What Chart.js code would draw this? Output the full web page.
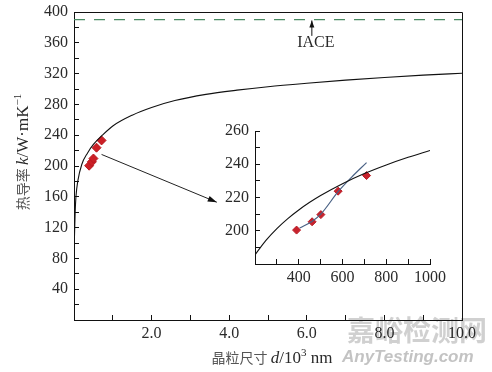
<!DOCTYPE html>
<html>
<head>
<meta charset="utf-8">
<script src="https://cdn.jsdelivr.net/npm/chart.js@4"></script>
<style>
html, body { margin: 0; padding: 0; background: #fff; }
#wrap { position: relative; width: 492px; height: 372px; }
#mainChart { position: absolute; left: 0; top: 0; }
#insetChart { position: absolute; left: 200px; top: 118px; }
</style>
</head>
<body>
<div id="wrap">
  <canvas id="mainChart" width="492" height="372"></canvas>
  <canvas id="insetChart" width="250" height="180"></canvas>
</div>
<script>
// main curve (grain size in 10^3 nm, k in W/mK)
var curveX = [0.003, 0.01, 0.03, 0.05, 0.1, 0.2, 0.35, 0.5, 0.73, 1.0, 1.5, 2.0, 2.6, 3.4, 4.2, 5.0, 6.0, 7.0, 8.0, 9.0, 10];
var curveY = [90, 105, 140, 160, 181, 202, 217, 228, 240, 252, 266, 276, 285, 293, 298.5, 303, 307.5, 311.5, 315, 318, 320.5];

// measured points (nm)
var grainNm = [390, 461, 501, 580, 710];
var kMeasured = [200.4, 205.4, 209.7, 223.8, 233.2];

// inset curves
var insetCurveX = [200, 250, 300, 350, 400, 450, 500, 600, 700, 800, 900, 1000];
var insetCurveY = [185.5, 194.2, 201.3, 207.3, 212.5, 217.1, 221.2, 228.3, 234.4, 239.6, 244.2, 248.3];
var fitX = [404, 460, 501, 580, 640, 710];
var fitY = [201.6, 205.5, 210, 223.5, 232, 241];

var iaceLevel = 390;
var iaceArrowY = [369, 389];
var iaceArrowX = 6.13;
var pointerX = [0.71, 3.68];
var pointerY = [215, 153];

var xTickLabels = ['2.0', '4.0', '6.0', '8.0', '10.0'];
var yTickLabels = [40, 80, 120, 160, 200, 240, 280, 320, 360, 400];
var insetXTicks = [400, 600, 800, 1000];
var insetYTicks = [200, 220, 240, 260];

function pts(xs, ys) {
    var out = [];
    for (var i = 0; i < xs.length; i++) out.push({x: xs[i], y: ys[i]});
    return out;
}

var serif = '"Liberation Serif", "DejaVu Serif", serif';
var cjk = '"Noto Sans CJK SC", sans-serif';
var ink = '#2a2a2a';

function arrowHead(ctx, x1, y1, x2, y2, len, half) {
    var a = Math.atan2(y2 - y1, x2 - x1);
    ctx.save();
    ctx.translate(x2, y2);
    ctx.rotate(a);
    ctx.beginPath();
    ctx.moveTo(0, 0);
    ctx.lineTo(-len, -half);
    ctx.lineTo(-len, half);
    ctx.closePath();
    ctx.fillStyle = '#111';
    ctx.fill();
    ctx.restore();
}

function drawRich(ctx, parts, cx, baseY) {
    var w = 0;
    parts.forEach(function(p) { ctx.font = p.f; w += ctx.measureText(p.t).width; });
    var x = cx - w / 2;
    ctx.textAlign = 'left';
    ctx.textBaseline = 'alphabetic';
    parts.forEach(function(p) {
        ctx.font = p.f;
        ctx.fillStyle = p.c || ink;
        ctx.fillText(p.t, x, baseY + (p.dy || 0));
        x += ctx.measureText(p.t).width;
    });
}

var mainDeco = {
    id: 'mainDeco',
    beforeDraw: function(chart) {
        var ctx = chart.ctx;
        ctx.save();
        ctx.fillStyle = 'rgba(170,170,170,0.55)';
        ctx.font = 'bold 28px ' + cjk;
        ctx.textAlign = 'left';
        ctx.textBaseline = 'alphabetic';
        ctx.fillText('嘉峪检测网', 347, 341);
        ctx.fillStyle = 'rgba(175,175,175,0.75)';
        ctx.font = 'italic bold 17px "Liberation Sans", sans-serif';
        ctx.fillText('AnyTesting.com', 342, 362);
        ctx.restore();
    },
    afterDraw: function(chart) {
        var ctx = chart.ctx, a = chart.chartArea;
        var xs = chart.scales.x, ys = chart.scales.y;
        ctx.save();
        // frame
        ctx.strokeStyle = '#111';
        ctx.lineWidth = 1;
        ctx.beginPath();
        ctx.moveTo(a.left, a.top + 0.5);
        ctx.lineTo(a.right + 0.5, a.top + 0.5);
        ctx.lineTo(a.right + 0.5, a.bottom);
        ctx.stroke();

        // arrow heads
        var p = chart.getDatasetMeta(3).data;
        arrowHead(ctx, p[0].x, p[0].y, p[1].x, p[1].y, 9, 3);
        var q = chart.getDatasetMeta(4).data;
        arrowHead(ctx, q[0].x, q[0].y, q[1].x, q[1].y, 7, 2.5);

        // IACE label
        ctx.font = '16px ' + serif;
        ctx.fillStyle = ink;
        ctx.textAlign = 'center';
        ctx.textBaseline = 'middle';
        ctx.fillText('IACE', xs.getPixelForValue(iaceArrowX) + 4, ys.getPixelForValue(iaceArrowY[0]) + 7);

        // axis titles
        drawRich(ctx, [
            {t: '晶粒尺寸 ', f: '14px ' + cjk, c: '#555'},
            {t: 'd', f: 'italic 17px ' + serif},
            {t: '/10', f: '17px ' + serif},
            {t: '3', f: '11px ' + serif, dy: -7},
            {t: ' nm', f: '17px ' + serif}
        ], (a.left + a.right) / 2 + 4, 363);

        ctx.translate(28, 152);
        ctx.rotate(-Math.PI / 2);
        drawRich(ctx, [
            {t: '热导率 ', f: '14px ' + cjk, c: '#555'},
            {t: 'k', f: 'italic 17px ' + serif},
            {t: '/W·mK', f: '17px ' + serif},
            {t: '−1', f: '11px ' + serif, dy: -7}
        ], 0, 0);
        ctx.restore();
    }
};

function axisCommon(min, max, step, labels, fmt) {
    return {
        type: 'linear',
        min: min,
        max: max,
        grid: { drawOnChartArea: false, drawTicks: true, tickLength: -5, color: '#111', tickColor: '#111' },
        border: { display: true, color: '#111', width: 1 },
        ticks: {
            stepSize: step,
            autoSkip: false,
            maxRotation: 0,
            color: ink,
            font: { family: serif, size: 16 },
            callback: function(v) {
                return labels.indexOf(fmt(v)) >= 0 ? fmt(v) : '';
            }
        }
    };
}

function noPad(s) {
    s.paddingTop = 0;
    s.paddingBottom = 0;
    s.paddingLeft = 0;
    s.paddingRight = 0;
}

var mainX = axisCommon(0, 10, 1, xTickLabels, function(v) { return v.toFixed(1); });
mainX.ticks.padding = 9;
mainX.afterFit = function(s) { s.height = 52; noPad(s); };
var mainY = axisCommon(0, 400, 20, yTickLabels, function(v) { return v; });
mainY.ticks.padding = 11;
mainY.afterFit = function(s) { s.width = 74; noPad(s); };

new Chart(document.getElementById('mainChart').getContext('2d'), {
    type: 'scatter',
    data: {
        datasets: [
            {
                data: pts(curveX, curveY),
                showLine: true,
                borderColor: '#111',
                borderWidth: 1.1,
                pointRadius: 0,
                cubicInterpolationMode: 'monotone'
            },
            {
                data: pts([0, 10], [iaceLevel, iaceLevel]),
                showLine: true,
                borderColor: '#4a8a63',
                borderWidth: 1.2,
                borderDash: [11, 9],
                pointRadius: 0
            },
            {
                data: pts(grainNm.map(function(v) { return v / 1000; }), kMeasured),
                pointStyle: 'rectRot',
                pointRadius: 4.5,
                backgroundColor: '#cc1f26',
                borderColor: '#b81a20',
                borderWidth: 1
            },
            {
                data: pts(pointerX, pointerY),
                showLine: true,
                borderColor: '#222',
                borderWidth: 1,
                pointRadius: 0
            },
            {
                data: pts([iaceArrowX, iaceArrowX], iaceArrowY),
                showLine: true,
                borderColor: '#111',
                borderWidth: 1,
                pointRadius: 0
            }
        ]
    },
    options: {
        responsive: false,
        devicePixelRatio: 1,
        animation: false,
        layout: { padding: { top: 12, right: 30, left: 0, bottom: 0 } },
        plugins: { legend: { display: false }, tooltip: { enabled: false } },
        scales: { x: mainX, y: mainY }
    },
    plugins: [mainDeco]
});

var inX = axisCommon(200, 1000, 100, insetXTicks, function(v) { return v; });
inX.ticks.padding = 9;
inX.afterFit = function(s) { s.height = 34; noPad(s); };
var inY = axisCommon(180, 260, 10, insetYTicks, function(v) { return v; });
inY.ticks.padding = 11;
inY.afterFit = function(s) { s.width = 55; noPad(s); };

new Chart(document.getElementById('insetChart').getContext('2d'), {
    type: 'scatter',
    data: {
        datasets: [
            {
                data: pts(insetCurveX, insetCurveY),
                showLine: true,
                borderColor: '#111',
                borderWidth: 1.1,
                pointRadius: 0,
                cubicInterpolationMode: 'monotone'
            },
            {
                data: pts(fitX, fitY),
                showLine: true,
                borderColor: '#4a6285',
                borderWidth: 1.2,
                pointRadius: 0,
                cubicInterpolationMode: 'monotone'
            },
            {
                data: pts(grainNm, kMeasured),
                pointStyle: 'rectRot',
                pointRadius: 4,
                backgroundColor: '#c8222c',
                borderColor: '#b81c25',
                borderWidth: 1
            }
        ]
    },
    options: {
        responsive: false,
        devicePixelRatio: 1,
        animation: false,
        layout: { padding: { top: 13, right: 20, left: 0, bottom: 0 } },
        plugins: { legend: { display: false }, tooltip: { enabled: false } },
        scales: { x: inX, y: inY }
    }
});
</script>
</body>
</html>
